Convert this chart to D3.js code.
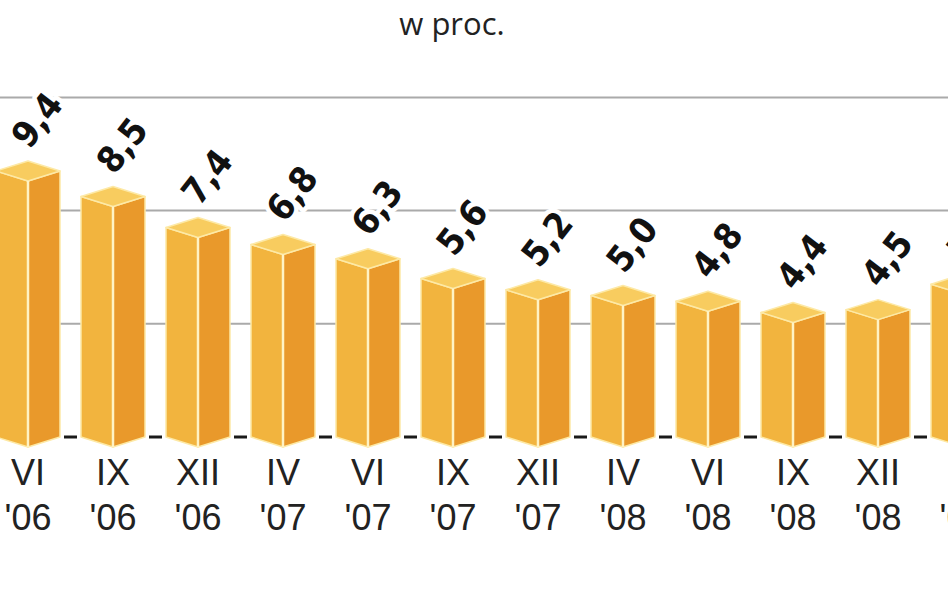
<!DOCTYPE html>
<html><head><meta charset="utf-8">
<script src="https://cdn.jsdelivr.net/npm/d3@7"></script>
<style>
html,body{margin:0;padding:0;background:#fff;overflow:hidden;}
</style></head>
<body>
<svg id="chart" width="948" height="593"></svg>
<script>
const months = ["VI","IX","XII","IV","VI","IX","XII","IV","VI","IX","XII","IV"];
const years  = ["'06","'06","'06","'07","'07","'07","'07","'08","'08","'08","'08","'09"];
const values = [9.4, 8.5, 7.4, 6.8, 6.3, 5.6, 5.2, 5.0, 4.8, 4.4, 4.5, 5.4];
const labels = ["9,4","8,5","7,4","6,8","6,3","5,6","5,2","5,0","4,8","4,4","4,5","5,4"];
const gridTicks = [4, 8, 12];
const title = "w proc.";

const svg = d3.select("#chart");
const W = 948, H = 593;
const idx = values.map((d,i)=>i);
const x = d3.scalePoint().domain(idx).range([28, 28 + 85*11]);
const y = d3.scaleLinear().domain([0, 12]).range([447, 447 - 12*28.3]);
const w = 32, dy = 10;

svg.append("text").attr("x", 452).attr("y", 35).attr("text-anchor","middle")
  .attr("font-family","'Open Sans', sans-serif").attr("font-size", 31).attr("fill","#222").text(title);

// gridlines (back plane)
svg.append("g").selectAll("line").data(gridTicks).join("line")
  .attr("x1", 0).attr("x2", W)
  .attr("y1", d => y(d) - dy).attr("y2", d => y(d) - dy)
  .attr("stroke", "#aaa").attr("stroke-width", 2);

// baseline dashes between bars
const gaps = idx.slice(0, -1);
svg.append("g").selectAll("line").data(gaps).join("line")
  .attr("x1", i => x(i) + w + 4).attr("x2", i => x(i+1) - w - 4)
  .attr("y1", y(0) - dy).attr("y2", y(0) - dy)
  .attr("stroke", "#1a1a1a").attr("stroke-width", 3);

const bars = svg.append("g").selectAll("g").data(idx).join("g");
const edge = "#fde9a6";
bars.append("path").attr("d", i => {
  const cx = x(i), t = y(values[i]), b = y(0);
  return `M${cx-w},${t-dy}L${cx},${t}L${cx},${b}L${cx-w},${b-dy}Z`;
}).attr("fill", "#f2b43e").attr("stroke", edge).attr("stroke-width", 1.5).attr("stroke-linejoin","round");
bars.append("path").attr("d", i => {
  const cx = x(i), t = y(values[i]), b = y(0);
  return `M${cx},${t}L${cx+w},${t-dy}L${cx+w},${b-dy}L${cx},${b}Z`;
}).attr("fill", "#e9992b").attr("stroke", edge).attr("stroke-width", 1.5).attr("stroke-linejoin","round");
bars.append("path").attr("d", i => {
  const cx = x(i), t = y(values[i]);
  return `M${cx-w},${t-dy}L${cx},${t}L${cx+w},${t-dy}L${cx},${t-2*dy}Z`;
}).attr("fill", "#f8cc5f").attr("stroke", edge).attr("stroke-width", 1.5).attr("stroke-linejoin","round");
bars.append("line")
  .attr("x1", i => x(i)).attr("x2", i => x(i))
  .attr("y1", i => y(values[i])).attr("y2", y(0))
  .attr("stroke", "#fff3c4").attr("stroke-width", 2.5);

// value labels
svg.append("g").selectAll("text").data(idx).join("text")
  .attr("transform", i => `translate(${x(i) + 9},${y(values[i]) - 61}) rotate(-52)`)
  .attr("text-anchor", "middle").attr("dominant-baseline", "central")
  .attr("font-family", "'DejaVu Sans Condensed','DejaVu Sans',sans-serif")
  .attr("font-weight", "bold").attr("font-size", 36).attr("fill", "#111")
  .attr("stroke", "#fff").attr("stroke-width", 9).attr("paint-order", "stroke")
  .attr("stroke-linejoin","round")
  .text(i => labels[i]);

// x axis labels
const xl = svg.append("g").selectAll("g").data(idx).join("g");
xl.append("text").attr("x", i => x(i)).attr("y", 485).attr("text-anchor","middle")
  .attr("font-family","'Liberation Sans',Arial,sans-serif").attr("font-size", 36).attr("fill","#222")
  .text(i => months[i]);
xl.append("text").attr("x", i => x(i)).attr("y", 530).attr("text-anchor","middle")
  .attr("font-family","'Liberation Sans',Arial,sans-serif").attr("font-size", 36).attr("fill","#222")
  .text(i => years[i]);
</script>
</body></html>
